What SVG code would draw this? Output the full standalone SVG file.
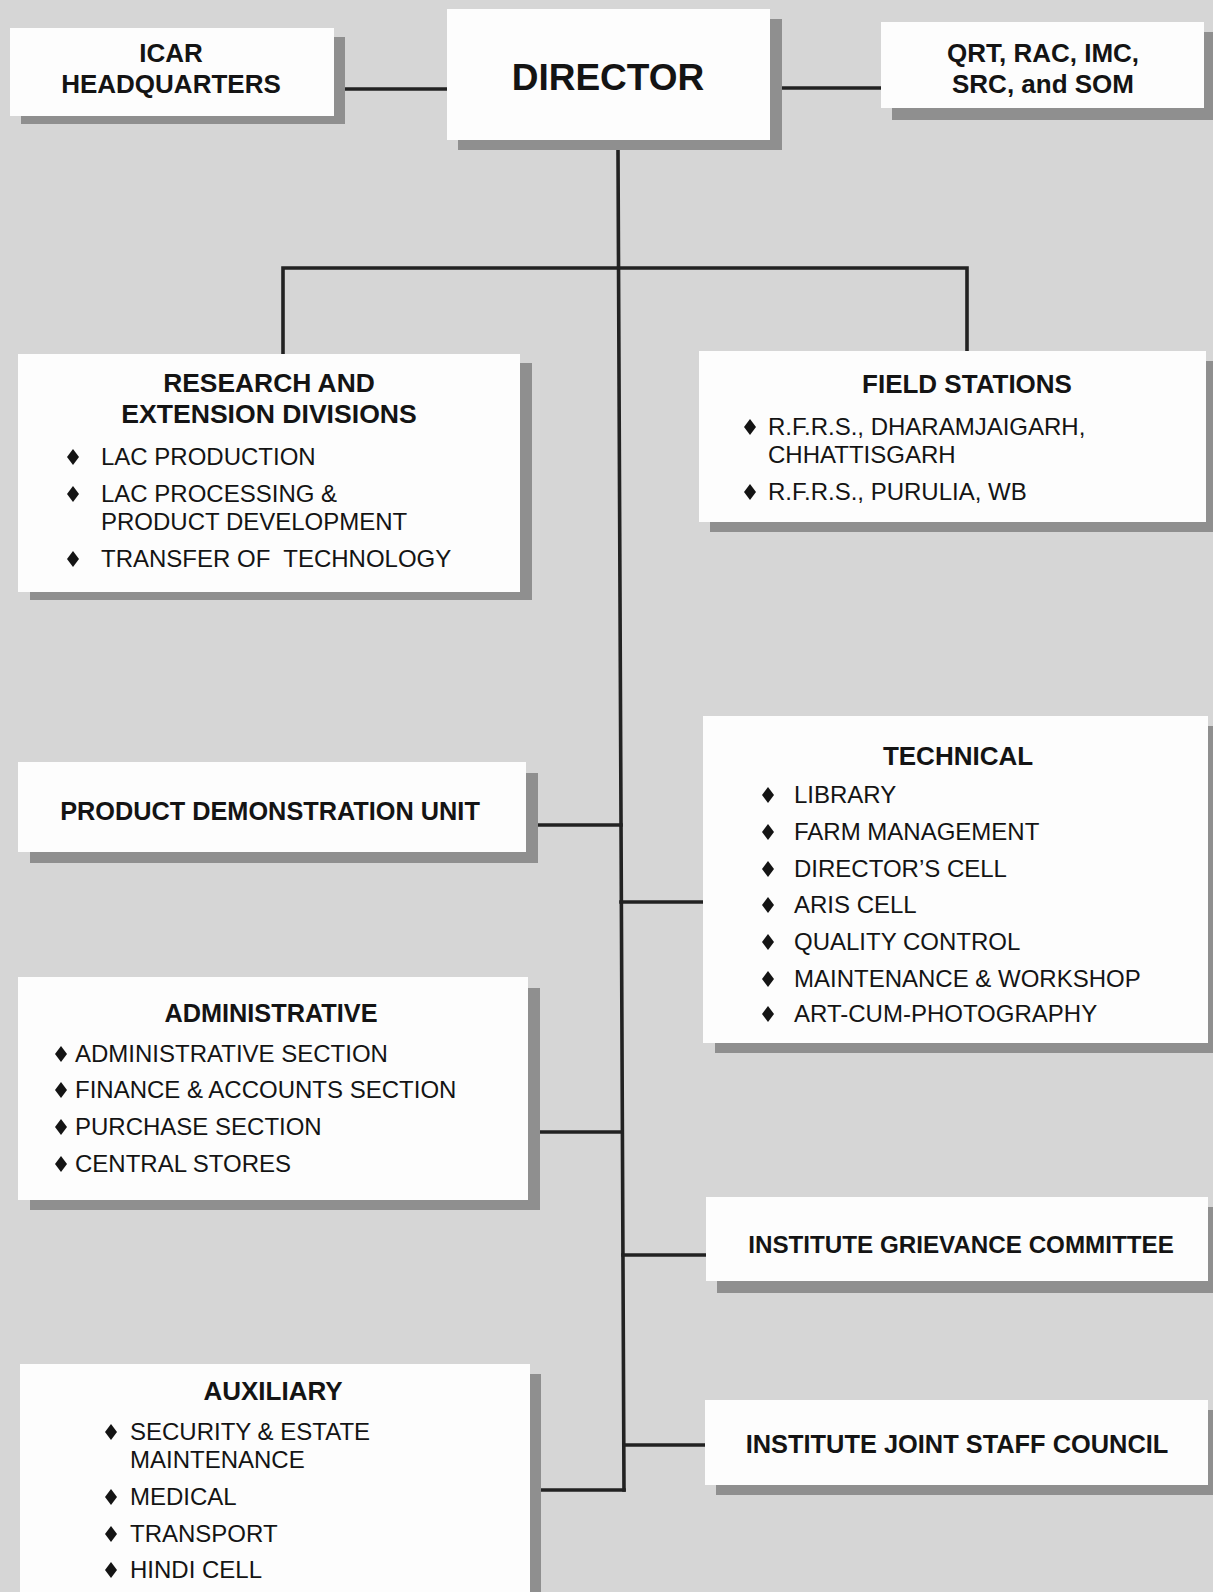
<svg xmlns="http://www.w3.org/2000/svg" width="1213" height="1592" viewBox="0 0 1213 1592">
<style>
.bg{fill:#d6d6d6}
.box{fill:#fdfdfd}
.sh{fill:#8f8f8f}
.ln{fill:none;stroke:#222;stroke-width:3.6;stroke-linecap:square;stroke-linejoin:miter}
.h{font-family:"Liberation Sans",Arial,sans-serif;font-weight:bold;font-size:26px;fill:#141414;text-anchor:middle}
.t{font-family:"Liberation Sans",Arial,sans-serif;font-size:24px;fill:#141414}
.b{fill:#141414}
</style>
<defs>
<path id="dm" d="M0,-8 L6,0 L0,8 L-6,0 Z"/>
</defs>
<rect class="bg" x="0" y="0" width="1213" height="1592"/>

<g id="connectors">
<path class="ln" d="M346,89 H447"/>
<path class="ln" d="M782,88 H881"/>
<path class="ln" d="M618,150 L624,1490"/>
<path class="ln" d="M283,353 V268 H967 V351"/>
<path class="ln" d="M539,825 H621"/>
<path class="ln" d="M621,902 H703"/>
<path class="ln" d="M541,1132 H622"/>
<path class="ln" d="M623,1255 H706"/>
<path class="ln" d="M624,1445 H705"/>
<path class="ln" d="M542,1490 H624"/>
</g>

<g id="icar">
<rect class="sh" x="21" y="37" width="324" height="87"/>
<rect class="box" x="10" y="28" width="324" height="88"/>
<text class="h" x="171" y="62">ICAR</text>
<text class="h" x="171" y="93">HEADQUARTERS</text>
</g>

<g id="director">
<rect class="sh" x="458" y="19" width="324" height="131"/>
<rect class="box" x="447" y="9" width="323" height="131"/>
<text class="h" x="608" y="90" style="font-size:37px">DIRECTOR</text>
</g>

<g id="qrt">
<rect class="sh" x="892" y="32" width="323" height="88"/>
<rect class="box" x="881" y="22" width="323" height="86"/>
<text class="h" x="1043" y="62">QRT, RAC, IMC,</text>
<text class="h" x="1043" y="93">SRC, and SOM</text>
</g>

<g id="research">
<rect class="sh" x="30" y="363" width="502" height="237"/>
<rect class="box" x="18" y="354" width="502" height="238"/>
<text class="h" x="269" y="392" style="font-size:26.4px">RESEARCH AND</text>
<text class="h" x="269" y="423" style="font-size:26.6px">EXTENSION DIVISIONS</text>
<use href="#dm" class="b" x="73" y="457"/>
<text class="t" x="101" y="465">LAC PRODUCTION</text>
<use href="#dm" class="b" x="73" y="494"/>
<text class="t" x="101" y="502">LAC PROCESSING &amp;</text>
<text class="t" x="101" y="530">PRODUCT DEVELOPMENT</text>
<use href="#dm" class="b" x="73" y="559"/>
<text class="t" x="101" y="567" xml:space="preserve" style="white-space:pre">TRANSFER OF  TECHNOLOGY</text>
</g>

<g id="field">
<rect class="sh" x="710" y="361" width="507" height="171"/>
<rect class="box" x="699" y="351" width="507" height="171"/>
<text class="h" x="967" y="393">FIELD STATIONS</text>
<use href="#dm" class="b" x="750" y="427"/>
<text class="t" x="768" y="435">R.F.R.S., DHARAMJAIGARH,</text>
<text class="t" x="768" y="463">CHHATTISGARH</text>
<use href="#dm" class="b" x="750" y="492"/>
<text class="t" x="768" y="500">R.F.R.S., PURULIA, WB</text>
</g>

<g id="pdu">
<rect class="sh" x="30" y="773" width="508" height="90"/>
<rect class="box" x="18" y="762" width="508" height="90"/>
<text class="h" x="270" y="820" style="font-size:25.3px">PRODUCT DEMONSTRATION UNIT</text>
</g>

<g id="technical">
<rect class="sh" x="715" y="726" width="505" height="327"/>
<rect class="box" x="703" y="716" width="505" height="327"/>
<text class="h" x="958" y="765">TECHNICAL</text>
<use href="#dm" class="b" x="768" y="795"/>
<text class="t" x="794" y="803">LIBRARY</text>
<use href="#dm" class="b" x="768" y="832"/>
<text class="t" x="794" y="840">FARM MANAGEMENT</text>
<use href="#dm" class="b" x="768" y="869"/>
<text class="t" x="794" y="877">DIRECTOR’S CELL</text>
<use href="#dm" class="b" x="768" y="905"/>
<text class="t" x="794" y="913">ARIS CELL</text>
<use href="#dm" class="b" x="768" y="942"/>
<text class="t" x="794" y="950">QUALITY CONTROL</text>
<use href="#dm" class="b" x="768" y="979"/>
<text class="t" x="794" y="987">MAINTENANCE &amp; WORKSHOP</text>
<use href="#dm" class="b" x="768" y="1014"/>
<text class="t" x="794" y="1022">ART-CUM-PHOTOGRAPHY</text>
</g>

<g id="administrative">
<rect class="sh" x="30" y="988" width="510" height="222"/>
<rect class="box" x="18" y="977" width="510" height="223"/>
<text class="h" x="271" y="1022" style="font-size:25.3px">ADMINISTRATIVE</text>
<use href="#dm" class="b" x="61" y="1054"/>
<text class="t" x="75" y="1062">ADMINISTRATIVE SECTION</text>
<use href="#dm" class="b" x="61" y="1090"/>
<text class="t" x="75" y="1098">FINANCE &amp; ACCOUNTS SECTION</text>
<use href="#dm" class="b" x="61" y="1127"/>
<text class="t" x="75" y="1135">PURCHASE SECTION</text>
<use href="#dm" class="b" x="61" y="1164"/>
<text class="t" x="75" y="1172">CENTRAL STORES</text>
</g>

<g id="grievance">
<rect class="sh" x="717" y="1207" width="502" height="86"/>
<rect class="box" x="706" y="1197" width="502" height="84"/>
<text class="h" x="961" y="1253" style="font-size:24.2px">INSTITUTE GRIEVANCE COMMITTEE</text>
</g>

<g id="jointstaff">
<rect class="sh" x="716" y="1410" width="503" height="85"/>
<rect class="box" x="705" y="1400" width="503" height="85"/>
<text class="h" x="957" y="1453" style="font-size:25.4px">INSTITUTE JOINT STAFF COUNCIL</text>
</g>

<g id="auxiliary">
<rect class="sh" x="31" y="1374" width="510" height="240"/>
<rect class="box" x="20" y="1364" width="510" height="240"/>
<text class="h" x="273" y="1400">AUXILIARY</text>
<use href="#dm" class="b" x="111" y="1432"/>
<text class="t" x="130" y="1440">SECURITY &amp; ESTATE</text>
<text class="t" x="130" y="1468">MAINTENANCE</text>
<use href="#dm" class="b" x="111" y="1497"/>
<text class="t" x="130" y="1505">MEDICAL</text>
<use href="#dm" class="b" x="111" y="1534"/>
<text class="t" x="130" y="1542">TRANSPORT</text>
<use href="#dm" class="b" x="111" y="1570"/>
<text class="t" x="130" y="1578">HINDI CELL</text>
</g>
</svg>
